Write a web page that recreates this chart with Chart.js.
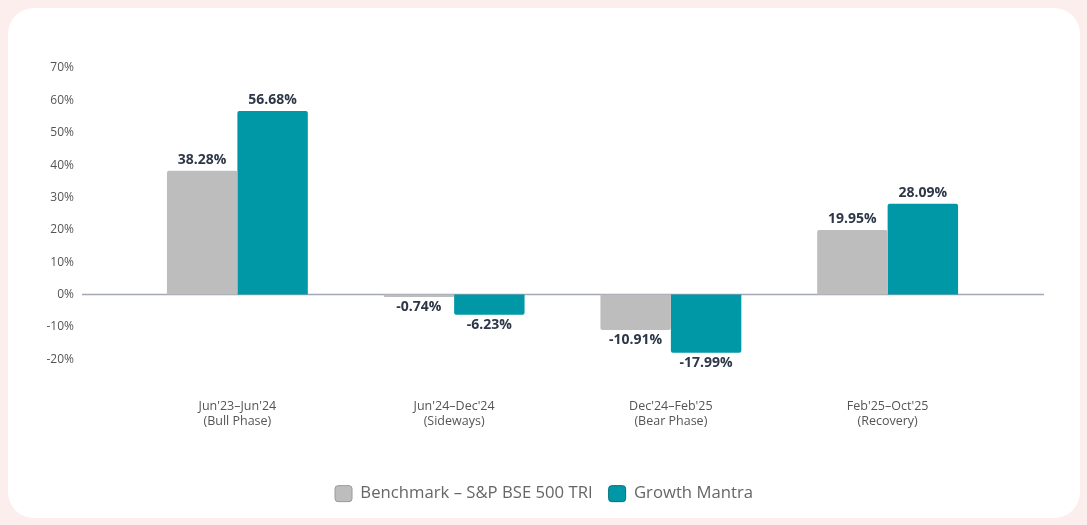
<!DOCTYPE html>
<html>
<head>
<meta charset="utf-8">
<script src="https://cdn.jsdelivr.net/npm/chart.js@4.4.0/dist/chart.umd.min.js"></script>
<style>
  html, body { margin: 0; padding: 0; background: #fdeeee; }
  body { width: 1087px; height: 525px; position: relative; overflow: hidden; }
  .card {
    position: absolute; left: 8px; top: 8px; width: 1072px; height: 510px;
    background: #ffffff; border-radius: 26px;
  }
  .card canvas { position: absolute; left: 0; top: 0; }
</style>
</head>
<body>
<div class="card">
  <canvas id="grafica" width="1072" height="510"></canvas>
</div>
<script>
const periodos = ["Jun'23–Jun'24", "Jun'24–Dec'24", "Dec'24–Feb'25", "Feb'25–Oct'25"];
const fases = ['(Bull Phase)', '(Sideways)', '(Bear Phase)', '(Recovery)'];
const benchmark = [38.28, -0.74, -10.91, 19.95];
const growthMantra = [56.68, -6.23, -17.99, 28.09];
const ejeY = { min: -20, max: 70, paso: 10 };

const fuente = "'Open Sans', 'Noto Sans', sans-serif";

// linea del cero, un poco mas ancha que el area de barras
const lineaCero = {
  id: 'lineaCero',
  beforeDatasetsDraw(chart) {
    const { ctx, chartArea, scales } = chart;
    const y = scales.y.getPixelForValue(0);
    ctx.save();
    ctx.strokeStyle = '#a3a7b9';
    ctx.lineWidth = 1.5;
    ctx.beginPath();
    ctx.moveTo(chartArea.left - 47, y);
    ctx.lineTo(chartArea.right + 48, y);
    ctx.stroke();
    ctx.restore();
  }
};

const etiquetas = {
  id: 'etiquetas',
  afterDatasetsDraw(chart) {
    const { ctx } = chart;
    ctx.save();
    ctx.font = 'bold 14px ' + fuente;
    ctx.fillStyle = '#2d3748';
    ctx.textAlign = 'center';
    chart.data.datasets.forEach((ds, i) => {
      chart.getDatasetMeta(i).data.forEach((bar, j) => {
        const v = ds.data[j];
        const texto = v.toFixed(2) + '%';
        if (v >= 0) {
          ctx.textBaseline = 'bottom';
          ctx.fillText(texto, bar.x, bar.y - 4);
        } else {
          ctx.textBaseline = 'top';
          ctx.fillText(texto, bar.x, bar.y + 3);
        }
      });
    });
    ctx.restore();
  }
};

const ctx = document.getElementById('grafica').getContext('2d');

new Chart(ctx, {
  type: 'bar',
  data: {
    labels: periodos.map((p, i) => [p, fases[i]]),
    datasets: [
      {
        label: 'Benchmark – S&P BSE 500 TRI',
        data: benchmark,
        backgroundColor: '#bdbdbd',
        borderColor: '#9a9a9a',
        borderWidth: 0,
        borderRadius: 2,
        borderSkipped: 'start'
      },
      {
        label: 'Growth Mantra',
        data: growthMantra,
        backgroundColor: '#0098a6',
        borderColor: '#00707b',
        borderWidth: 0,
        borderRadius: 2,
        borderSkipped: 'start'
      }
    ]
  },
  options: {
    responsive: false,
    animation: false,
    layout: { padding: { top: 60, right: 0, bottom: 6, left: 0 } },
    categoryPercentage: 0.65,
    barPercentage: 1,
    plugins: {
      tooltip: { enabled: false },
      legend: {
        position: 'bottom',
        labels: {
          font: { family: fuente, size: 16.7 },
          color: '#666666',
          boxWidth: 17,
          boxHeight: 16,
          padding: 16,
          useBorderRadius: true,
          borderRadius: 3,
          generateLabels(chart) {
            return chart.data.datasets.map((ds, i) => ({
              text: ds.label,
              fillStyle: ds.backgroundColor,
              strokeStyle: ds.borderColor,
              lineWidth: 1,
              borderRadius: 3,
              fontColor: '#666666',
              datasetIndex: i,
              hidden: !chart.isDatasetVisible(i)
            }));
          }
        }
      }
    },
    scales: {
      x: {
        grid: { display: false, drawTicks: false },
        border: { display: false },
        ticks: {
          font: { family: fuente, size: 12.5, lineHeight: 1.2 },
          color: '#555555',
          padding: 40
        }
      },
      y: {
        min: ejeY.min,
        max: ejeY.max,
        grid: { display: false, drawTicks: false },
        border: { display: false },
        afterFit(scale) {
          scale.width = 121;
          // el padding de ticks tambien empuja el area arriba/abajo; se quita
          scale.paddingTop = 0;
          scale.paddingBottom = 0;
        },
        ticks: {
          stepSize: ejeY.paso,
          font: { family: fuente, size: 12 },
          color: '#555555',
          padding: 55,
          callback: v => v + '%'
        }
      },
      // eje vacio a la derecha solo para reservar espacio
      derecha: {
        position: 'right',
        min: ejeY.min,
        max: ejeY.max,
        grid: { display: false, drawTicks: false },
        border: { display: false },
        ticks: { display: false },
        afterFit(scale) {
          scale.width = 84;
          scale.paddingTop = 0;
          scale.paddingBottom = 0;
        }
      }
    }
  },
  plugins: [lineaCero, etiquetas]
});
</script>
</body>
</html>
